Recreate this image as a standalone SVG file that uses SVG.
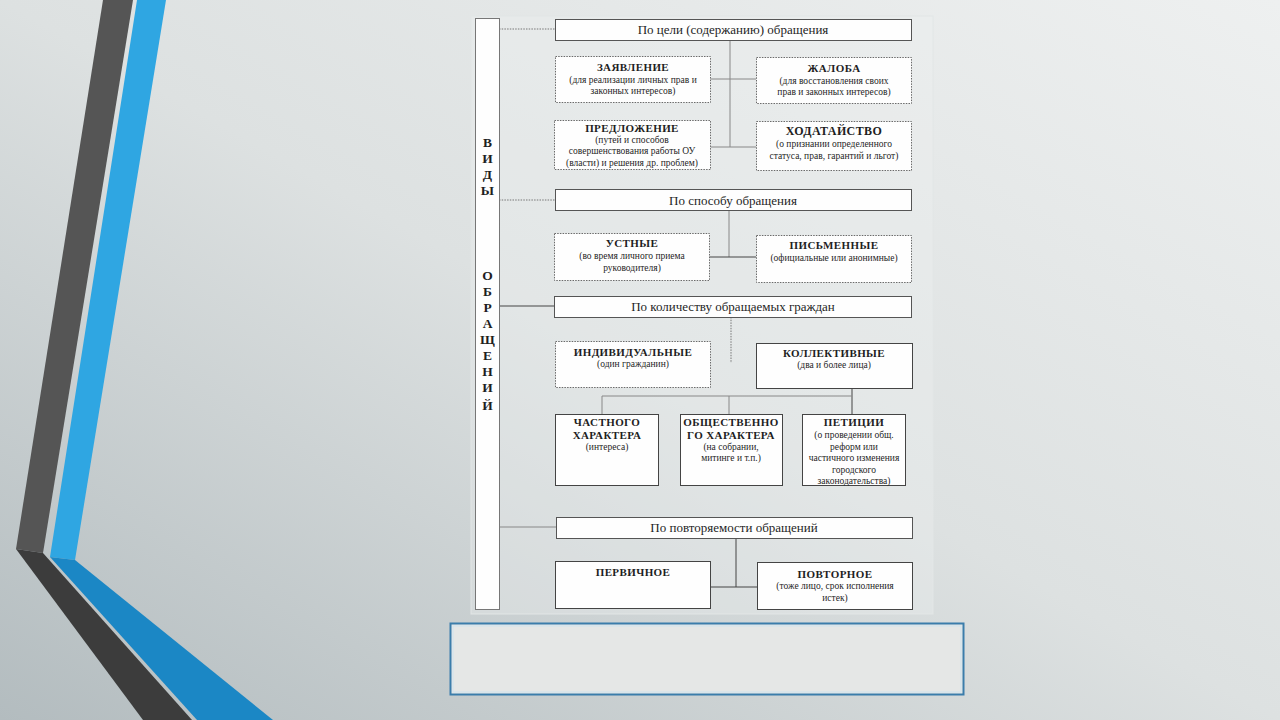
<svg xmlns="http://www.w3.org/2000/svg" width="1280" height="720" viewBox="0 0 1280 720">
<defs>
<linearGradient id="bg" x1="1" y1="0" x2="0" y2="1">
<stop offset="0" stop-color="#eef0f0"/>
<stop offset="0.5" stop-color="#dde1e1"/>
<stop offset="1" stop-color="#b3bcbf"/>
</linearGradient>
<style>
text{font-family:"Liberation Serif","DejaVu Serif",serif;fill:#1e1e1e;text-anchor:middle}
.ct{font-size:13px}
.tt{font-size:11px;font-weight:bold;letter-spacing:0.4px}
.st{font-size:9.5px}
.vt{font-size:13.5px;font-weight:bold}
.box{fill:#fefefe}
.solid{stroke:#444;stroke-width:1}
.dot{stroke:#6a6a6a;stroke-width:1;stroke-dasharray:1.5 1.2}
.cat{fill:#fefefe;stroke:#555;stroke-width:1}
.ln{stroke:#444;stroke-width:1;fill:none}
.lg{stroke:#888;stroke-width:1;fill:none}
.ld{stroke:#777;stroke-width:1;fill:none;stroke-dasharray:1.5 1.2}
</style>
</defs>
<rect width="1280" height="720" fill="url(#bg)"/>
<g id="decoration">
<polygon points="103,0 133,0 43,553 16,549" fill="#555555"/>
<polygon points="137,0 166,0 75,560 50,557" fill="#2fa6e2"/>
<polygon points="16,549 43,553 192,720 143,720" fill="#3c3c3c"/>
<polygon points="50,557 75,560 273,720 197,720" fill="#1b87c5"/>
</g>
<rect id="panel" x="471" y="16" width="462" height="598" fill="#eef0f0" fill-opacity="0.35" stroke="#e2e6e6" stroke-width="1"/>
<g id="connectors">
<line class="ld" x1="499" y1="29" x2="555" y2="29"/>
<line class="ld" x1="499" y1="200" x2="555" y2="200"/>
<line class="ln" x1="499" y1="306" x2="554" y2="306"/>
<line class="lg" x1="499" y1="527" x2="556" y2="527"/>
<line class="lg" x1="730" y1="40" x2="730" y2="147"/>
<line class="lg" x1="710" y1="79" x2="756" y2="79"/>
<line class="lg" x1="710" y1="147" x2="756" y2="147"/>
<line class="lg" x1="729" y1="210" x2="729" y2="257"/>
<line class="ln" x1="709" y1="257" x2="756" y2="257"/>
<line class="ld" x1="731" y1="317" x2="731" y2="363"/>
<line class="ln" x1="852" y1="388" x2="852" y2="414"/>
<line class="lg" x1="602" y1="396" x2="852" y2="396"/>
<line class="lg" x1="602" y1="396" x2="602" y2="414"/>
<line class="lg" x1="729" y1="396" x2="729" y2="414"/>
<line class="ln" x1="736" y1="538" x2="736" y2="587"/>
<line class="ln" x1="711" y1="587" x2="757" y2="587"/>
</g>
<g id="vid">
<rect x="475.5" y="18.5" width="24" height="591" fill="#fefefe" stroke="#777" stroke-width="1"/>
<line class="ld" x1="499.5" y1="18" x2="499.5" y2="610"/>
<text class="vt" x="487.5" y="147">В</text>
<text class="vt" x="487.5" y="163">И</text>
<text class="vt" x="487.5" y="179">Д</text>
<text class="vt" x="487.5" y="195">Ы</text>
<text class="vt" x="487.5" y="280">О</text>
<text class="vt" x="487.5" y="296">Б</text>
<text class="vt" x="487.5" y="312">Р</text>
<text class="vt" x="487.5" y="328">А</text>
<text class="vt" x="487.5" y="344">Щ</text>
<text class="vt" x="487.5" y="360">Е</text>
<text class="vt" x="487.5" y="376">Н</text>
<text class="vt" x="487.5" y="392">И</text>
<text class="vt" x="487.5" y="410">Й</text>
</g>
<g id="cat1">
<rect class="cat" x="555.5" y="19.5" width="356" height="21"/>
<text class="ct" x="733" y="34">По цели (содержанию) обращения</text>
</g>
<g id="zayavlenie">
<rect class="box dot" x="555.5" y="56.5" width="155" height="46"/>
<text class="tt" x="633" y="71">ЗАЯВЛЕНИЕ</text>
<text class="st" x="633" y="82.5">(для реализации личных прав и</text>
<text class="st" x="633" y="94">законных интересов)</text>
</g>
<g id="zhaloba">
<rect class="box dot" x="756.5" y="57.5" width="155" height="46"/>
<text class="tt" x="834" y="71.5">ЖАЛОБА</text>
<text class="st" x="834" y="83.5">(для восстановления своих</text>
<text class="st" x="834" y="95">прав и законных интересов)</text>
</g>
<g id="predlozhenie">
<rect class="box dot" x="554.5" y="120.5" width="156" height="49"/>
<text class="tt" x="632" y="132">ПРЕДЛОЖЕНИЕ</text>
<text class="st" x="632" y="142.5">(путей и способов</text>
<text class="st" x="632" y="154">совершенствования работы ОУ</text>
<text class="st" x="632" y="165.5">(власти) и решения др. проблем)</text>
</g>
<g id="hodataystvo">
<rect class="box dot" x="756.5" y="121.5" width="155" height="49"/>
<text class="tt" x="834" y="135" style="font-size:12px">ХОДАТАЙСТВО</text>
<text class="st" x="834" y="147">(о признании определенного</text>
<text class="st" x="834" y="159">статуса, прав, гарантий и льгот)</text>
</g>
<g id="cat2">
<rect class="cat" x="555.5" y="189.5" width="356" height="21"/>
<text class="ct" x="733" y="204.5">По способу обращения</text>
</g>
<g id="ustnye">
<rect class="box dot" x="554.5" y="233.5" width="155" height="47"/>
<text class="tt" x="632" y="247">УСТНЫЕ</text>
<text class="st" x="632" y="258.5">(во время личного приема</text>
<text class="st" x="632" y="270.5">руководителя)</text>
</g>
<g id="pismennye">
<rect class="box dot" x="756.5" y="235.5" width="155" height="47"/>
<text class="tt" x="834" y="249">ПИСЬМЕННЫЕ</text>
<text class="st" x="834" y="260.5">(официальные или анонимные)</text>
</g>
<g id="cat3">
<rect class="cat" x="554.5" y="296.5" width="357" height="21"/>
<text class="ct" x="733" y="311">По количеству обращаемых граждан</text>
</g>
<g id="individualnye">
<rect class="box dot" x="555.5" y="341.5" width="155" height="46"/>
<text class="tt" x="633" y="356">ИНДИВИДУАЛЬНЫЕ</text>
<text class="st" x="633" y="366.5">(один гражданин)</text>
</g>
<g id="kollektivnye">
<rect class="box solid" x="756.5" y="343.5" width="156" height="45"/>
<text class="tt" x="834" y="357">КОЛЛЕКТИВНЫЕ</text>
<text class="st" x="834" y="367.5">(два и более лица)</text>
</g>
<g id="chastnogo">
<rect class="box solid" x="555.5" y="414.5" width="103" height="71"/>
<text class="tt" x="607" y="426">ЧАСТНОГО</text>
<text class="tt" x="607" y="438.5">ХАРАКТЕРА</text>
<text class="st" x="607" y="449.5">(интереса)</text>
</g>
<g id="obshchestvennogo">
<rect class="box solid" x="680.5" y="414.5" width="102" height="71"/>
<text class="tt" x="731" y="426">ОБЩЕСТВЕННО</text>
<text class="tt" x="731" y="438.5">ГО ХАРАКТЕРА</text>
<text class="st" x="731" y="449.5">(на собрании,</text>
<text class="st" x="731" y="461">митинге и т.п.)</text>
</g>
<g id="petitsii">
<rect class="box solid" x="802.5" y="414.5" width="103" height="71"/>
<text class="tt" x="854" y="426">ПЕТИЦИИ</text>
<text class="st" x="854" y="438">(о проведении общ.</text>
<text class="st" x="854" y="449.5">реформ или</text>
<text class="st" x="854" y="461">частичного изменения</text>
<text class="st" x="854" y="472.5">городского</text>
<text class="st" x="854" y="484">законодательства)</text>
</g>
<g id="cat4">
<rect class="cat" x="556.5" y="517.5" width="356" height="21"/>
<text class="ct" x="734" y="532">По повторяемости обращений</text>
</g>
<g id="pervichnoe">
<rect class="box solid" x="555.5" y="561.5" width="155" height="47"/>
<text class="tt" x="633" y="576">ПЕРВИЧНОЕ</text>
</g>
<g id="povtornoe">
<rect class="box solid" x="757.5" y="562.5" width="155" height="47"/>
<text class="tt" x="835" y="577.5">ПОВТОРНОЕ</text>
<text class="st" x="835" y="589">(тоже лицо, срок исполнения</text>
<text class="st" x="835" y="601">истек)</text>
</g>
<g id="caption">
<rect x="450.5" y="623.5" width="513" height="71" fill="#e5e7e6" stroke="#3a7dab" stroke-width="2"/>
<rect x="453" y="626" width="508" height="66" fill="none" stroke="#cfe3ee" stroke-width="1"/>
</g>
</svg>
